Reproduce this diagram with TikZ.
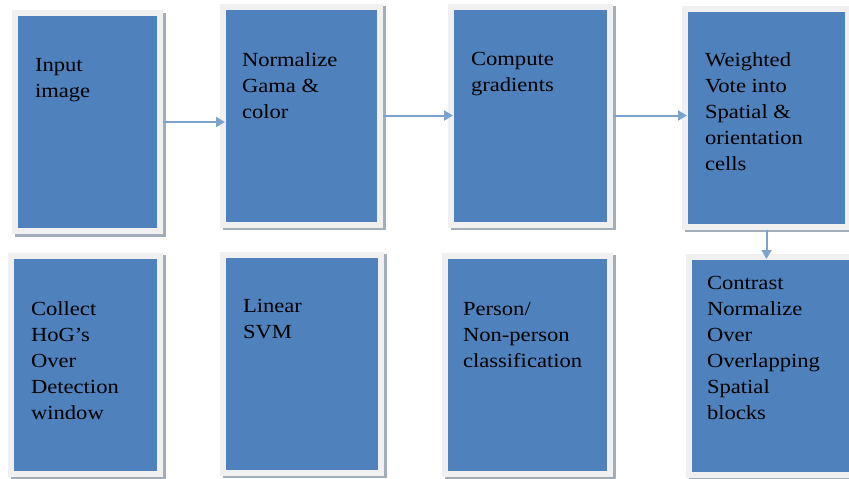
\documentclass[tikz,border=0pt]{standalone}
\usepackage{fontspec}
\setmainfont{Liberation Serif}[FakeStretch=1.13]
\usetikzlibrary{positioning, arrows.meta, shadows}
\definecolor{boxblue}{HTML}{4F81BD}
\definecolor{framegray}{HTML}{F0F0F0}
\definecolor{shadowgray}{HTML}{A3ACB9}
\definecolor{arrowblue}{HTML}{7CA3CC}

\begin{document}
\begin{tikzpicture}[x=1pt, y=-1pt]
    \tikzstyle{stage} = [rectangle, inner sep=0pt, fill=boxblue, draw=framegray, line width=6pt, minimum height=218pt,
        general shadow={draw=shadowgray, line width=6pt, shadow xshift=2.5pt, shadow yshift=-2.5pt}]
    \tikzstyle{txt}   = [inner sep=0pt, outer sep=0pt, align=left, anchor=north west, text=black, font=\fontsize{20}{26}\selectfont]
    \tikzstyle{arrow} = [line width=2pt, draw=arrowblue, -{Triangle[length=9pt, width=10pt]}, shorten >=-5pt]
    \useasboundingbox (0,0) rectangle (849,479);
    % top row
    \node (b1) [stage, minimum width=145pt] at (87.5,122)   {};
    \node (b2) [stage, minimum width=157pt] at (301.5,115.5) {};
    \node (b3) [stage, minimum width=159pt] at (530.5,115.5) {};
    \node (b4) [stage, minimum width=163pt] at (766.5,117.5) {};
    % bottom row
    \node (b5) [stage, minimum width=149pt] at (85.5,364.5)  {};
    \node (b6) [stage, minimum width=158pt] at (302,363.5)   {};
    \node (b7) [stage, minimum width=165pt] at (527.5,364.5) {};
    \node (b8) [stage, minimum width=167pt] at (772.5,366)   {};
    % texts
    \node (t1) [txt, below right=48pt and 23pt of b1.north west] {Input\\image};
    \node (t2) [txt, below right=49pt and 22pt of b2.north west] {Normalize\\Gama \&\\color};
    \node (t3) [txt, below right=49pt and 23pt of b3.north west] {Compute\\gradients};
    \node (t4) [txt, below right=47pt and 23pt of b4.north west] {Weighted\\Vote into\\Spatial \&\\orientation\\cells};
    \node (t5) [txt, below right=49pt and 23pt of b5.north west] {Collect\\HoG's\\Over\\Detection\\window};
    \node (t6) [txt, below right=48pt and 23pt of b6.north west] {Linear\\SVM};
    \node (t7) [txt, below right=50pt and 21pt of b7.north west] {Person/\\Non-person\\classification};
    \node (t8) [txt, below right=22pt and 21pt of b8.north west] {Contrast\\Normalize\\Over\\Overlapping\\Spatial\\blocks};
    % flow
    \draw[arrow] (b1.east)  -- (b1.east -| b2.west);
    \draw[arrow] (b2.east)  -- (b2.east -| b3.west);
    \draw[arrow] (b3.east)  -- (b3.east -| b4.west);
    \draw[arrow] (b4.south) -- (b4.south |- b8.north);
\end{tikzpicture}
\end{document}
